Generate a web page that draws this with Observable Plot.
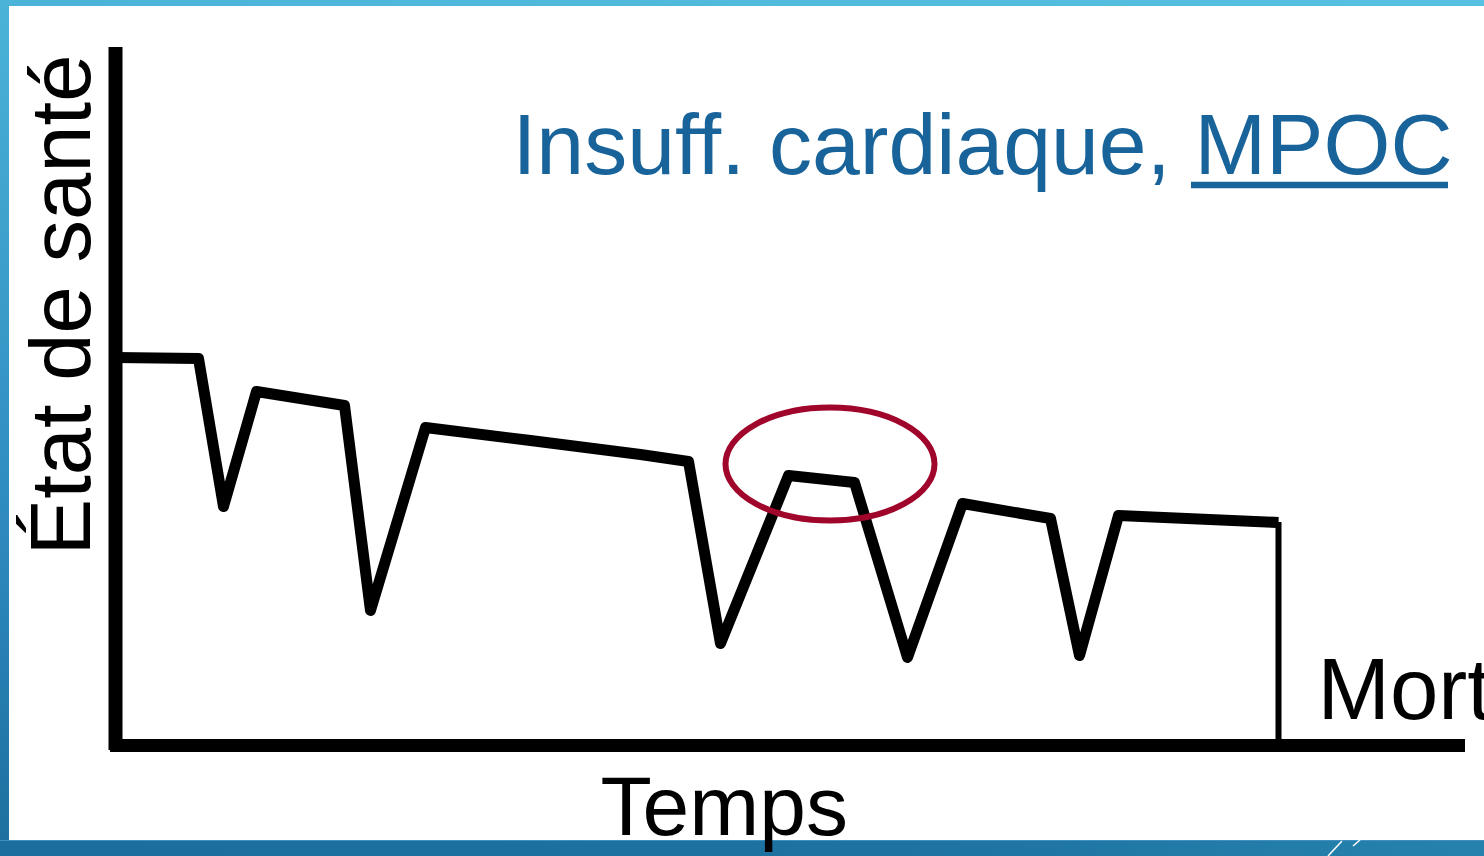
<!DOCTYPE html>
<html>
<head>
<meta charset="utf-8">
<script src="https://cdn.jsdelivr.net/npm/d3@7"></script>
<script src="https://cdn.jsdelivr.net/npm/@observablehq/plot@0.6"></script>
<style>
  html, body { margin: 0; padding: 0; background: #fff; overflow: hidden; }
  #page { position: relative; width: 1484px; height: 856px; overflow: hidden; background: #fff; }
  .bar { position: absolute; }
  #top { left: 0; top: 0; width: 1484px; height: 6px; background: linear-gradient(to right, #4bb3d8, #56c1e1); }
  #left { left: 0; top: 0; width: 9px; height: 856px; background: linear-gradient(to bottom, #4bb3d8, #2f8bbf 60%, #1c6f9f); }
  #bottom { left: 0; top: 840px; width: 1484px; height: 16px; background: linear-gradient(to right, #1b6e9e, #1d72a1 60%, #2682ad); border-top: 1px solid #3f8fc2; box-sizing: border-box; }
  #deco { position: absolute; left: 1320px; top: 840px; }
  #chart { position: absolute; left: 0; top: 0; }
</style>
</head>
<body>
<div id="page">
  <div class="bar" id="top"></div>
  <div class="bar" id="left"></div>
  <div class="bar" id="bottom"></div>
  <svg id="deco" width="60" height="16"><line x1="8" y1="16" x2="22" y2="1" stroke="#fff" stroke-width="1.5"/><line x1="33" y1="6" x2="40" y2="0" stroke="#fff" stroke-width="1.5"/></svg>
  <div id="chart"></div>
</div>
<script>
// Trajectory (time, health state)
const times  = [0, 8.3, 10.8, 14.1, 22.9, 25.5, 31.0, 41.5, 52.5, 57.3, 60.5, 67.3, 73.9, 79.2, 84.7, 93.5, 96.4, 100.3, 116.3];
const health = [38.8, 38.7, 23.9, 35.4, 34.0, 13.5, 31.8, 30.5, 29.1, 28.4, 10.2, 27.0, 26.3, 8.8, 24.2, 22.7, 9.0, 23.0, 22.3];
const deathTime = 116.3;
const deathHealth = 22.3;

// Highlight ellipse (data units)
const highlightX = [71.5];
const highlightY = [28.1];
const highlightRx = 10.45;
const highlightRy = 5.65;

// Texts
const titleText = ["Insuff. cardiaque, MPOC"];
const yLabel = ["État de santé"];
const xLabel = ["Temps"];
const endLabel = ["Mort"];

const points = times.map((t, i) => ({t, h: health[i]}));
const FONT = "'Liberation Sans', Arial, Helvetica, sans-serif";

const plot = Plot.plot({
  width: 1484,
  height: 856,
  marginLeft: 115,
  marginRight: 19,
  marginTop: 45,
  marginBottom: 111,
  x: {domain: [0, 135], axis: null},
  y: {domain: [0, 70], axis: null},
  style: {background: "transparent", overflow: "visible"},
  marks: [
    // axes drawn as thick black strokes
    Plot.ruleX([0], {y1: -0.5, y2: 69.8, stroke: "black", strokeWidth: 14}),
    Plot.ruleY([0], {x1: -0.5, x2: 135, stroke: "black", strokeWidth: 13}),
    // health trajectory
    Plot.line(points, {x: "t", y: "h", stroke: "black", strokeWidth: 11, strokeLinejoin: "round", strokeLinecap: "butt"}),
    // death drop
    Plot.ruleX([deathTime], {y1: 0, y2: deathHealth, stroke: "black", strokeWidth: 6}),
    // title + underline of MPOC
    Plot.text(titleText, {x: 133.7, y: 57.2, text: d => d, textAnchor: "end", lineAnchor: "bottom", fontSize: 86, fontFamily: FONT, fill: "#17639a"}),
    Plot.ruleY([56.05], {x1: 107.6, x2: 133.3, stroke: "#17639a", strokeWidth: 6.5}),
    // axis labels
    Plot.text(yLabel, {x: -2.6, y: 19.0, text: d => d, rotate: -90, textAnchor: "start", lineAnchor: "bottom", fontSize: 85, fontFamily: FONT, fill: "black"}),
    Plot.text(xLabel, {x: 48.5, y: -8.9, text: d => d, textAnchor: "start", lineAnchor: "bottom", fontSize: 84, fontFamily: FONT, fill: "black"}),
    Plot.text(endLabel, {x: 120.2, y: 2.7, text: d => d, textAnchor: "start", lineAnchor: "bottom", fontSize: 87, fontFamily: FONT, fill: "black"})
  ]
});

// highlight ellipse placed through the plot's own scales
const sx = plot.scale("x"), sy = plot.scale("y");
const cx = sx.apply(highlightX[0]), cy = sy.apply(highlightY[0]);
const rx = Math.abs(sx.apply(highlightX[0] + highlightRx) - cx);
const ry = Math.abs(sy.apply(highlightY[0] + highlightRy) - cy);
d3.select(plot).append("ellipse")
  .attr("cx", cx).attr("cy", cy).attr("rx", rx).attr("ry", ry)
  .attr("fill", "none").attr("stroke", "#a0062b").attr("stroke-width", 6);

document.getElementById("chart").appendChild(plot);
</script>
</body>
</html>
